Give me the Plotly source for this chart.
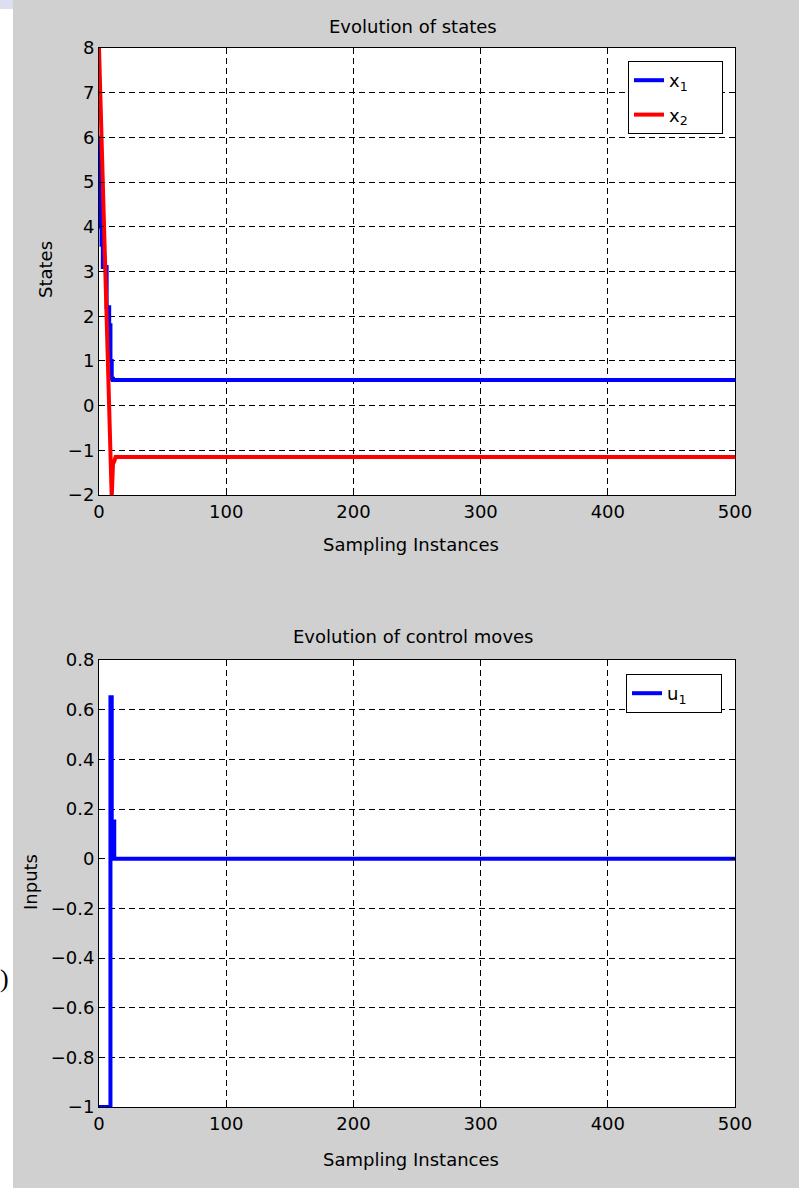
import plotly.graph_objects as go
from plotly.subplots import make_subplots

# ---- data ----
k_x1 = [0, 1, 2, 3, 4, 5, 6, 7, 8, 9, 10, 11, 500]
x1 = [6.0, 4.0, 3.6, 3.1, 3.1, 3.1, 2.2, 2.2, 1.8, 1.0, 0.6, 0.57, 0.57]

k_x2 = [0, 1, 2, 3, 4, 5, 6, 7, 8, 9, 10, 11, 12, 13, 500]
x2 = [8.0, 7.0, 6.0, 5.0, 4.0, 3.0, 2.0, 1.0, 0.0, -1.0, -2.05, -1.3, -1.25, -1.15, -1.15]

k_u = [0, 8, 9, 10, 11, 12, 500]
u1 = [-1.0, -1.0, 0.65, 0.15, 0.15, 0.0, 0.0]

x_ticks = [0, 100, 200, 300, 400, 500]

W, H = 799, 1188
FONT = "DejaVu Sans"
PAD = "\u00a0" * 5

def px(x):
    return x / W

def py(y):
    return 1 - y / H

fig = make_subplots(rows=2, cols=1)

fig.add_trace(go.Scatter(x=k_x1, y=x1, mode="lines", name="x<sub>1</sub>" + PAD, legendgroup="a",
                         line=dict(color="#0000ff", width=4, shape="hv")), row=1, col=1)
fig.add_trace(go.Scatter(x=k_x2, y=x2, mode="lines", name="x<sub>2</sub>" + PAD, legendgroup="b",
                         line=dict(color="#ff0000", width=4)), row=1, col=1)
fig.add_trace(go.Scatter(x=k_u, y=u1, mode="lines", name="u<sub>1</sub>" + PAD, legend="legend2",
                         line=dict(color="#0000ff", width=4, shape="hv")), row=2, col=1)

axis_common = dict(
    showline=True, linecolor="black", linewidth=1, mirror="ticks",
    ticks="inside", ticklen=5, tickcolor="black", automargin=False,
    showgrid=True, gridcolor="black", gridwidth=1, griddash="6px,4px",
    zeroline=False, tickfont=dict(family=FONT, size=18, color="black"),
)

fig.update_xaxes(range=[0, 500], tickvals=x_ticks, domain=[px(99), px(735)], **axis_common)
fig.update_yaxes(**axis_common)
fig.update_yaxes(range=[-2, 8], dtick=1, tick0=0, domain=[py(495), py(48)], row=1, col=1)
fig.update_yaxes(range=[-1, 0.8], dtick=0.2, tick0=0, domain=[py(1107), py(660)], row=2, col=1)

ann = []
def text(t, x, y, size=18, angle=0, family=FONT):
    ann.append(dict(text=t, x=px(x), y=py(y), xref="paper", yref="paper", showarrow=False,
                    xanchor="center", yanchor="middle", textangle=angle,
                    font=dict(family=family, size=size, color="black")))

text("Evolution of states", 413, 27)
text("Sampling Instances", 411, 545)
text("States", 45, 270, angle=-90)
text("Evolution of control moves", 413, 636)
text("Sampling Instances", 411, 1159)
text("Inputs", 30, 882, angle=-90)
text(")", 4, 978, size=26, family="Liberation Serif")

shapes = [
    dict(type="rect", xref="paper", yref="paper", x0=0, x1=px(13), y0=0, y1=py(9),
         fillcolor="white", line=dict(width=0), layer="below"),
    dict(type="rect", xref="paper", yref="paper", x0=0, x1=px(13), y0=py(9), y1=1,
         fillcolor="#dcdff0", line=dict(width=0), layer="below"),
]

legend_common = dict(
    bgcolor="white", bordercolor="black", borderwidth=1,
    font=dict(family=FONT, size=18, color="black"),
    xanchor="right", yanchor="top", xref="paper", yref="paper",
    itemwidth=30,
)

fig.update_layout(
    width=W, height=H,
    margin=dict(l=0, r=0, t=0, b=0, autoexpand=False),
    paper_bgcolor="#d0d0d0", plot_bgcolor="white",
    annotations=ann, shapes=shapes,
    showlegend=True,
    legend=dict(x=px(723), y=py(61), tracegroupgap=8, **legend_common),
    legend2=dict(x=px(722), y=py(674), **legend_common),
    font=dict(family=FONT, color="black"),
)

post = """
document.documentElement.style.margin='0';
document.body.style.margin='0';
document.body.style.overflow='hidden';
"""

fig.write_html("out.html", post_script=post, config={"displayModeBar": False})
